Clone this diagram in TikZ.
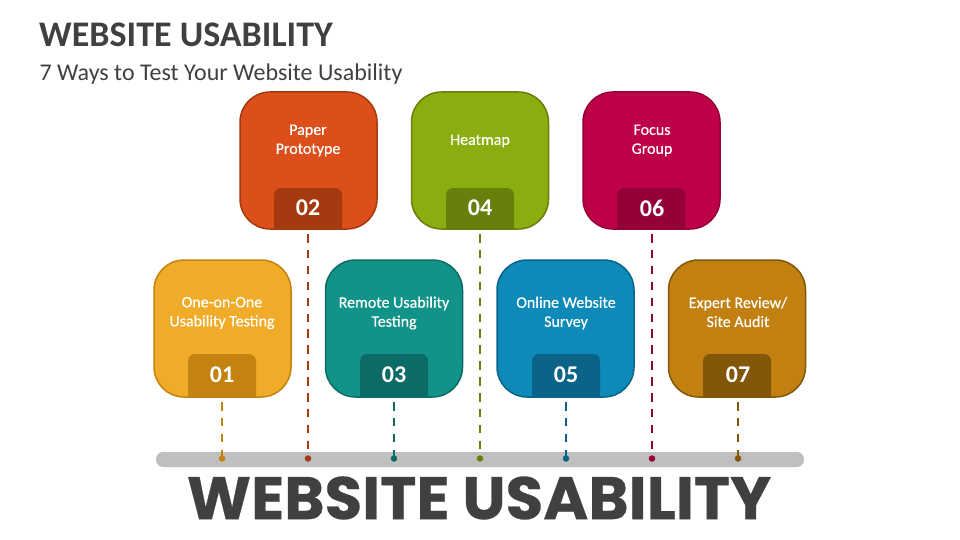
\documentclass[tikz,border=0pt]{standalone}
\usepackage{fontspec}
\setmainfont{Carlito}
\newfontfamily\bigfont{Poppins}[FakeBold=0.4,FakeStretch=1.02]
\usepackage{xcolor}
\usetikzlibrary{positioning}

\definecolor{ink}{HTML}{404040}
\definecolor{barcol}{HTML}{BFBFBF}
\definecolor{amberfill}{HTML}{F0AC28}
\definecolor{amberdark}{HTML}{C4820E}
\definecolor{rustfill}{HTML}{DC4E1A}
\definecolor{rustdark}{HTML}{A53910}
\definecolor{tealfill}{HTML}{12938A}
\definecolor{tealdark}{HTML}{0D6B66}
\definecolor{limefill}{HTML}{8AAE10}
\definecolor{limedark}{HTML}{687F0C}
\definecolor{bluefill}{HTML}{0E8AB8}
\definecolor{bluedark}{HTML}{0B6488}
\definecolor{crimfill}{HTML}{BE0048}
\definecolor{crimdark}{HTML}{950038}
\definecolor{ochrefill}{HTML}{C1800F}
\definecolor{ochredark}{HTML}{82570A}

\tikzset{
  card/.style={rectangle, rounded corners=30pt, minimum width=137pt, minimum height=137pt,
    inner sep=0pt, outer sep=0pt, line width=1.5pt},
  cardtext/.style={text=white, align=center,
    font=\fontsize{16}{19}\selectfont\addfontfeature{FakeBold=0.4}},
  tabnum/.style={rectangle, minimum width=68pt, minimum height=42pt, inner sep=0pt, outer sep=0pt,
    text=white, font=\fontsize{24}{24}\selectfont\bfseries},
  tabshape/.style={rounded corners=7pt},
  stem/.style={line width=2pt, dash pattern=on 8.5pt off 7.4pt},
  pin/.style={circle, minimum size=6.5pt, inner sep=0pt, outer sep=0pt},
}

\begin{document}
\begin{tikzpicture}[x=1pt,y=-1pt]
\useasboundingbox (0,0) rectangle (960,540);
\node (title) at (186,34.5) [text=ink, font=\fontsize{36}{36}\selectfont\bfseries] {WEBSITE USABILITY};
\node (subtitle) at (221,74) [text=ink, font=\fontsize{24}{24}\selectfont] {7 Ways to Test Your Website Usability};
\node (bar) at (480,459.5) [rectangle, rounded corners=7pt, fill=barcol, minimum width=648pt, minimum height=15pt, inner sep=0pt] {};
\node (bigtitle) at (479,498) [text=ink, font=\fontsize{60}{60}\selectfont\bigfont\bfseries] {WEBSITE USABILITY};
% cards, lower row
\node (card1) at (222.5,328.5) [card, fill=amberfill, draw=amberdark] {};
\node (card3) at (394,328.5) [card, fill=tealfill, draw=tealdark] {};
\node (card5) at (565.5,328.5) [card, fill=bluefill, draw=bluedark] {};
\node (card7) at (737,328.5) [card, fill=ochrefill, draw=ochredark] {};
% cards, upper row
\node (card2) at (308.5,160.5) [card, fill=rustfill, draw=rustdark] {};
\node (card4) at (480,160.5) [card, fill=limefill, draw=limedark] {};
\node (card6) at (651.5,160.5) [card, fill=crimfill, draw=crimdark] {};
% tabs
\fill[amberdark, tabshape] (188,397.2) |- (256,354) [sharp corners] -- (256,397.2) -- cycle;
\fill[tealdark, tabshape] (360,397.2) |- (428,354) [sharp corners] -- (428,397.2) -- cycle;
\fill[bluedark, tabshape] (532,397.2) |- (600,354) [sharp corners] -- (600,397.2) -- cycle;
\fill[ochredark, tabshape] (703,397.2) |- (771,354) [sharp corners] -- (771,397.2) -- cycle;
\fill[rustdark, tabshape] (274,229.2) |- (342,188) [sharp corners] -- (342,229.2) -- cycle;
\fill[limedark, tabshape] (446,229.2) |- (514,188) [sharp corners] -- (514,229.2) -- cycle;
\fill[crimdark, tabshape] (617,229.2) |- (685,188) [sharp corners] -- (685,229.2) -- cycle;
% labels
\node (text1) at (222,313) [cardtext] {One-on-One\\Usability Testing};
\node (text3) at (394,313) [cardtext] {Remote Usability\\Testing};
\node (text5) at (566,313) [cardtext] {Online Website\\Survey};
\node (text7) at (738,312) [cardtext] {Expert Review/\\Site Audit};
\node (text2) at (308,140.5) [cardtext] {Paper\\Prototype};
\node (text4) at (480,141) [cardtext] {Heatmap};
\node (text6) at (652,140.5) [cardtext] {Focus\\Group};
% numbers
\node (tab1) at (222,375) [tabnum] {01};
\node (tab2) at (308,208) [tabnum] {02};
\node (tab3) at (394,375) [tabnum] {03};
\node (tab4) at (480,208) [tabnum] {04};
\node (tab5) at (566,375) [tabnum] {05};
\node (tab6) at (652,208) [tabnum] {06};
\node (tab7) at (738,375) [tabnum] {07};
% pins on the bar
\node (pin1) at (222,458.5) [pin, fill=amberdark] {};
\node (pin2) at (308,458.5) [pin, fill=rustdark] {};
\node (pin3) at (394,458.5) [pin, fill=tealdark] {};
\node (pin4) at (480,458.5) [pin, fill=limedark] {};
\node (pin5) at (566,458.5) [pin, fill=bluedark] {};
\node (pin6) at (652,458.5) [pin, fill=crimdark] {};
\node (pin7) at (738,458.5) [pin, fill=ochredark] {};
% stems
\draw[stem, amberdark, shorten <=6pt] (tab1.south) -- (pin1.center);
\draw[stem, rustdark, shorten <=5pt] (tab2.south) -- (pin2.center);
\draw[stem, tealdark, shorten <=6pt] (tab3.south) -- (pin3.center);
\draw[stem, limedark, shorten <=5pt] (tab4.south) -- (pin4.center);
\draw[stem, bluedark, shorten <=6pt] (tab5.south) -- (pin5.center);
\draw[stem, crimdark, shorten <=5pt] (tab6.south) -- (pin6.center);
\draw[stem, ochredark, shorten <=6pt] (tab7.south) -- (pin7.center);
\end{tikzpicture}
\end{document}
